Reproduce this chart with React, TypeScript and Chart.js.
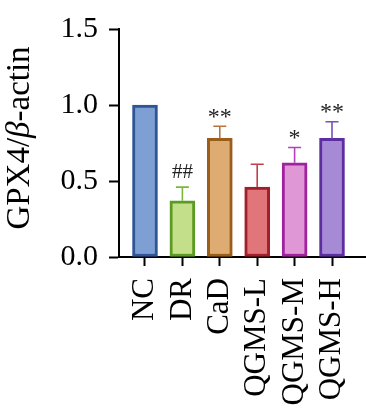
import React, { useEffect, useRef } from "react";
import { Chart, registerables } from "chart.js";

Chart.register(...registerables);

// Group labels, means, SD and significance marks
const groups = ["NC", "DR", "CaD", "QGMS-L", "QGMS-M", "QGMS-H"];
const means = [1.0, 0.37, 0.78, 0.46, 0.62, 0.78];
const errors = [0, 0.09, 0.08, 0.15, 0.1, 0.11];
const marks = ["", "##", "**", "", "*", "**"];

const fillColors = ["#7e9fd3", "#c3df8a", "#deac72", "#e0757a", "#e097d6", "#a78ad6"];
const edgeColors = ["#2f5597", "#5b9b24", "#9a5e1a", "#a21e2a", "#a0229e", "#5c2ea0"];
const whiskerColors = ["#2f5597", "#7ab83a", "#b8733e", "#c0404a", "#b440c0", "#7a4cc0"];

const yTicks = [0, 0.5, 1.0, 1.5];
const SERIF = "'Liberation Serif', 'Times New Roman', serif";

const errorBarPlugin = {
  id: "errorBars",
  afterDatasetsDraw(chart: any) {
    const { ctx, scales } = chart;
    const xs = scales.x;
    const ys = scales.y;
    ctx.save();
    groups.forEach((_, i) => {
      const cx = xs.getPixelForValue(i);
      const base = ys.getPixelForValue(means[i]);
      const top = ys.getPixelForValue(means[i] + errors[i]);
      if (errors[i] > 0) {
        ctx.strokeStyle = whiskerColors[i];
        ctx.lineWidth = 1.6;
        ctx.beginPath();
        ctx.moveTo(cx, base);
        ctx.lineTo(cx, top);
        ctx.moveTo(cx - 6.5, top);
        ctx.lineTo(cx + 6.5, top);
        ctx.stroke();
      }
      const m = marks[i];
      if (m) {
        ctx.fillStyle = "#222";
        ctx.textAlign = "center";
        ctx.textBaseline = "alphabetic";
        const isHash = m.startsWith("#");
        ctx.font = (isHash ? "21px " : "24px ") + SERIF;
        const tm = ctx.measureText(m);
        const centerY = top - (isHash ? 16.5 : 13);
        const baseY = centerY + (tm.actualBoundingBoxAscent - tm.actualBoundingBoxDescent) / 2;
        ctx.fillText(m, cx, baseY);
      }
    });
    ctx.restore();
  },
  afterDraw(chart: any) {
    const { ctx } = chart;
    const parts = [
      { t: "GPX4/", f: "33px " + SERIF },
      { t: "\u03b2", f: "italic 33px " + SERIF },
      { t: "-actin", f: "33px " + SERIF },
    ];
    ctx.save();
    ctx.translate(29, 138);
    ctx.rotate(-Math.PI / 2);
    ctx.fillStyle = "#000";
    ctx.textBaseline = "alphabetic";
    ctx.textAlign = "left";
    let total = 0;
    parts.forEach((p) => {
      ctx.font = p.f;
      total += ctx.measureText(p.t).width;
    });
    let x = -total / 2;
    parts.forEach((p) => {
      ctx.font = p.f;
      ctx.fillText(p.t, x, 0);
      x += ctx.measureText(p.t).width;
    });
    ctx.restore();
  },
};

export default function App() {
  const canvasRef = useRef<HTMLCanvasElement | null>(null);

  useEffect(() => {
    if (!canvasRef.current) return;
    const chart = new Chart(canvasRef.current, {
      type: "bar",
      data: {
        datasets: [
          {
            data: means.map((v, i) => ({ x: i, y: v })),
            backgroundColor: fillColors,
            borderColor: edgeColors,
            borderWidth: 3,
            borderSkipped: false,
            barThickness: 25,
          },
        ],
      },
      options: {
        responsive: false,
        animation: false,
        events: [],
        layout: { padding: { top: 19, right: 0, left: 0, bottom: 0 } },
        plugins: { legend: { display: false }, tooltip: { enabled: false } },
        scales: {
          x: {
            type: "linear",
            min: -0.695,
            max: 5.909,
            offset: false,
            afterBuildTicks(scale: any) {
              scale.ticks = groups.map((_, i) => ({ value: i }));
            },
            afterFit(scale: any) {
              scale.height = 159;
              scale.paddingLeft = 0;
              scale.paddingRight = 0;
            },
            ticks: {
              autoSkip: false,
              maxRotation: 90,
              minRotation: 90,
              padding: 12,
              color: "#000",
              font: { family: SERIF, size: 31 },
              callback: (v: any) => groups[v as number] ?? "",
            },
            grid: {
              drawOnChartArea: false,
              drawTicks: true,
              tickLength: 9,
              tickWidth: 2,
              tickColor: "#000",
              offset: false,
            },
            border: { display: true, color: "#000", width: 2 },
          },
          y: {
            min: 0,
            max: 1.5,
            afterBuildTicks(scale: any) {
              scale.ticks = yTicks.map((v) => ({ value: v }));
            },
            afterFit(scale: any) {
              scale.width = 119;
            },
            ticks: {
              padding: 11,
              color: "#000",
              font: { family: SERIF, size: 30 },
              callback: (v: any) => Number(v).toFixed(1),
            },
            grid: {
              drawOnChartArea: false,
              drawTicks: true,
              tickLength: 10,
              tickWidth: 2,
              tickColor: "#000",
            },
            border: { display: true, color: "#000", width: 2 },
          },
        },
      },
      plugins: [errorBarPlugin],
    });
    return () => chart.destroy();
  }, []);

  return (
    <div style={{ position: "fixed", left: 0, top: 0, width: 366, height: 416, background: "#fff" }}>
      <canvas ref={canvasRef} width={366} height={416} style={{ width: 366, height: 416, display: "block" }} />
    </div>
  );
}
